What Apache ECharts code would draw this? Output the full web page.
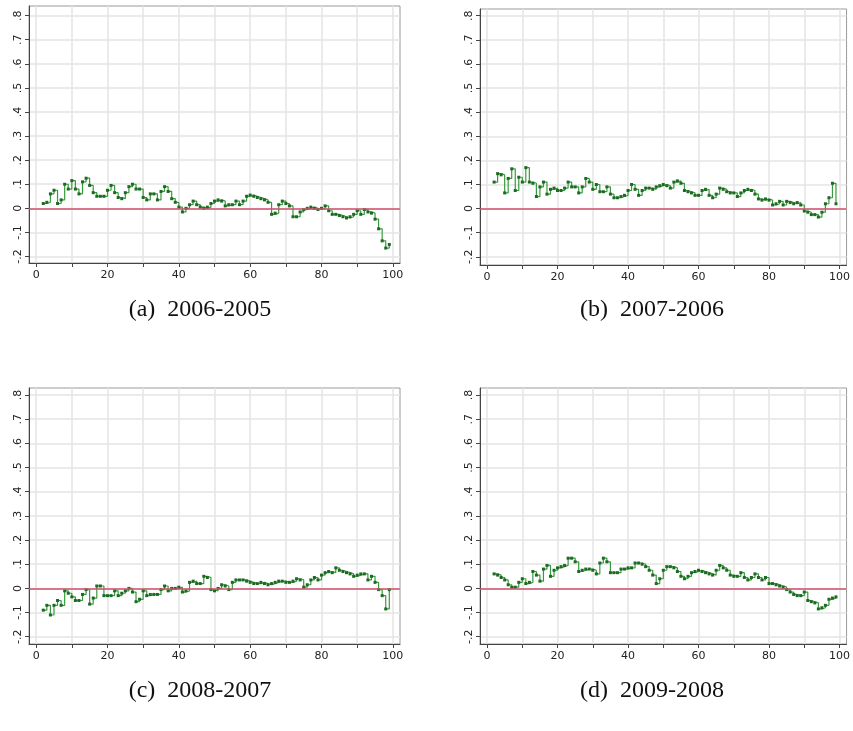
<!DOCTYPE html>
<html>
<head>
<meta charset="utf-8">
<script src="https://cdn.jsdelivr.net/npm/echarts@6/dist/echarts.min.js"></script>
<style>
  html, body { margin: 0; padding: 0; background: #fff; }
  #chart { width: 853px; height: 731px; }
</style>
</head>
<body>
<div id="chart"></div>
<script>
// percentiles on the x axis
var xs = [2, 3, 4, 5, 6, 7, 8, 9, 10, 11, 12, 13, 14, 15, 16, 17, 18, 19, 20,
  21, 22, 23, 24, 25, 26, 27, 28, 29, 30, 31, 32, 33, 34, 35, 36, 37, 38, 39, 40,
  41, 42, 43, 44, 45, 46, 47, 48, 49, 50, 51, 52, 53, 54, 55, 56, 57, 58, 59, 60,
  61, 62, 63, 64, 65, 66, 67, 68, 69, 70, 71, 72, 73, 74, 75, 76, 77, 78, 79, 80,
  81, 82, 83, 84, 85, 86, 87, 88, 89, 90, 91, 92, 93, 94, 95, 96, 97, 98, 99];

var diff0605 = [0.02, 0.025, 0.06, 0.075, 0.02, 0.035, 0.1, 0.08, 0.115, 0.08,
  0.06, 0.11, 0.125, 0.095, 0.065, 0.05, 0.05, 0.05, 0.075, 0.095,
  0.065, 0.045, 0.04, 0.065, 0.09, 0.1, 0.08, 0.08, 0.045, 0.035,
  0.06, 0.06, 0.035, 0.07, 0.09, 0.07, 0.04, 0.025, 0.005, -0.015,
  0.0, 0.015, 0.03, 0.015, 0.005, 0.0, 0.005, 0.02, 0.03, 0.035,
  0.03, 0.01, 0.015, 0.015, 0.03, 0.015, 0.03, 0.05, 0.055, 0.05,
  0.045, 0.04, 0.035, 0.025, -0.025, -0.02, 0.015, 0.03, 0.02, 0.01,
  -0.035, -0.035, -0.015, -0.005, 0.0, 0.005, 0.0, -0.005, 0.0, 0.01,
  -0.01, -0.025, -0.025, -0.03, -0.035, -0.04, -0.035, -0.025, -0.01, -0.025,
  -0.005, -0.015, -0.02, -0.045, -0.085, -0.135, -0.165, -0.15];

var diff0706 = [0.11, 0.145, 0.14, 0.065, 0.125, 0.165, 0.075, 0.13, 0.11, 0.17,
  0.11, 0.105, 0.05, 0.09, 0.11, 0.06, 0.08, 0.085, 0.075, 0.075,
  0.085, 0.11, 0.09, 0.09, 0.065, 0.09, 0.125, 0.11, 0.08, 0.1,
  0.07, 0.07, 0.09, 0.06, 0.045, 0.045, 0.05, 0.055, 0.075, 0.1,
  0.08, 0.055, 0.075, 0.085, 0.085, 0.08, 0.09, 0.095, 0.1, 0.095,
  0.085, 0.11, 0.115, 0.105, 0.075, 0.07, 0.065, 0.055, 0.055, 0.075,
  0.08, 0.055, 0.045, 0.06, 0.085, 0.08, 0.07, 0.065, 0.065, 0.05,
  0.065, 0.075, 0.08, 0.075, 0.06, 0.04, 0.035, 0.04, 0.035, 0.015,
  0.02, 0.03, 0.015, 0.03, 0.025, 0.02, 0.025, 0.015, -0.01, -0.015,
  -0.025, -0.025, -0.035, -0.015, 0.02, 0.045, 0.105, 0.02];

var diff0807 = [-0.09, -0.07, -0.11, -0.07, -0.05, -0.07, -0.01, -0.02, -0.035, -0.05,
  -0.05, -0.025, -0.005, -0.065, -0.04, 0.01, 0.01, -0.03, -0.03, -0.03,
  -0.01, -0.03, -0.02, -0.01, 0.0, -0.015, -0.055, -0.045, -0.01, -0.03,
  -0.025, -0.025, -0.025, -0.005, 0.01, -0.01, 0.0, 0.0, 0.005, -0.015,
  -0.01, 0.025, 0.03, 0.02, 0.02, 0.05, 0.045, -0.005, -0.01, 0.0,
  0.015, 0.01, -0.005, 0.025, 0.035, 0.035, 0.035, 0.03, 0.025, 0.02,
  0.02, 0.025, 0.02, 0.015, 0.02, 0.025, 0.03, 0.03, 0.025, 0.025,
  0.03, 0.04, 0.035, 0.005, 0.015, 0.035, 0.045, 0.035, 0.055, 0.065,
  0.07, 0.065, 0.085, 0.075, 0.07, 0.065, 0.06, 0.05, 0.055, 0.06,
  0.06, 0.035, 0.05, 0.025, -0.005, -0.03, -0.085, -0.005];

var diff0908 = [0.06, 0.055, 0.045, 0.035, 0.015, 0.005, 0.005, 0.025, 0.04, 0.02,
  0.025, 0.07, 0.055, 0.03, 0.08, 0.095, 0.05, 0.075, 0.085, 0.09,
  0.095, 0.125, 0.125, 0.11, 0.07, 0.075, 0.08, 0.08, 0.075, 0.06,
  0.105, 0.125, 0.11, 0.065, 0.065, 0.065, 0.08, 0.08, 0.085, 0.085,
  0.105, 0.105, 0.1, 0.09, 0.075, 0.055, 0.02, 0.04, 0.075, 0.09,
  0.09, 0.085, 0.07, 0.05, 0.04, 0.05, 0.065, 0.07, 0.075, 0.07,
  0.065, 0.06, 0.055, 0.075, 0.095, 0.085, 0.075, 0.055, 0.05, 0.05,
  0.065, 0.045, 0.035, 0.045, 0.06, 0.045, 0.035, 0.045, 0.02, 0.02,
  0.015, 0.01, 0.005, -0.005, -0.015, -0.025, -0.03, -0.03, -0.015, -0.05,
  -0.055, -0.06, -0.085, -0.08, -0.07, -0.045, -0.04, -0.035];

var captions = ['(a)  2006-2005', '(b)  2007-2006', '(c)  2008-2007', '(d)  2009-2008'];
var yTicks = [-0.2, -0.1, 0, 0.1, 0.2, 0.3, 0.4, 0.5, 0.6, 0.7, 0.8];
var xTicks = [0, 10, 20, 30, 40, 50, 60, 70, 80, 90, 100];
var xLabels = [0, 20, 40, 60, 80, 100];

// panel frames (pixels) and the value range each frame covers
var panels = [
  { data: diff0605, left: 29, top: 6, width: 371, height: 257, ymin: -0.227, ymax: 0.840, cx: 195, cy: 293 },
  { data: diff0706, left: 480, top: 9, width: 372, height: 256, ymin: -0.234, ymax: 0.828, cx: 647, cy: 293 },
  { data: diff0807, left: 29, top: 388, width: 371, height: 256, ymin: -0.230, ymax: 0.829, cx: 195, cy: 674 },
  { data: diff0908, left: 480, top: 388, width: 372, height: 256, ymin: -0.230, ymax: 0.829, cx: 647, cy: 674 }
];

function yFmt(v) {
  if (Math.abs(v) < 1e-9) return '0';
  return String(Math.round(v * 10) / 10).replace('0.', '.');
}

var grid = [], xAxis = [], yAxis = [], series = [], title = [];
panels.forEach(function(p, i) {
  grid.push({
    left: p.left, top: p.top, width: p.width, height: p.height,
    show: true, borderColor: '#9a9a9a', borderWidth: 1, backgroundColor: '#fff'
  });
  xAxis.push({
    type: 'value', gridIndex: i, min: -2, max: 102,
    axisLine: { show: true, onZero: false, lineStyle: { color: '#444', width: 1 } },
    axisTick: { show: true, length: 4, customValues: xTicks, lineStyle: { color: '#444' } },
    axisLabel: { customValues: xLabels, color: '#222', fontSize: 11, fontFamily: 'DejaVu Sans', margin: 7 },
    splitLine: { show: true, lineStyle: { color: '#e4e4e4', width: 1.5 } }
  });
  yAxis.push({
    type: 'value', gridIndex: i, min: p.ymin, max: p.ymax,
    axisLine: { show: true, onZero: false, lineStyle: { color: '#444', width: 1 } },
    axisTick: { show: true, length: 4, customValues: yTicks, lineStyle: { color: '#444' } },
    axisLabel: { customValues: yTicks, rotate: 90, color: '#222', fontSize: 11,
      fontFamily: 'DejaVu Sans', margin: 5, formatter: yFmt },
    splitLine: { show: true, lineStyle: { color: '#e4e4e4', width: 1.5 } }
  });
  series.push({
    type: 'line', xAxisIndex: i, yAxisIndex: i, step: 'end',
    data: xs.map(function(x, k) { return [x, p.data[k]]; }),
    showSymbol: true, symbol: 'rect', symbolSize: 3,
    itemStyle: { color: '#1d6b22' },
    lineStyle: { color: '#389a3e', width: 1.2 },
    animation: false, silent: true, z: 3,
    markLine: {
      silent: true, symbol: 'none', label: { show: false }, animation: false,
      lineStyle: { color: '#d0506f', width: 1.6, type: 'solid' },
      data: [{ yAxis: 0 }]
    }
  });
  title.push({
    text: captions[i], left: p.cx, top: p.cy, textAlign: 'center',
    textStyle: { fontFamily: 'Liberation Serif', fontWeight: 'normal', fontSize: 24, color: '#111' }
  });
});

var chart = echarts.init(document.getElementById('chart'), null, { renderer: 'canvas' });
chart.setOption({
  backgroundColor: '#fff',
  animation: false,
  title: title,
  grid: grid,
  xAxis: xAxis,
  yAxis: yAxis,
  series: series
});
</script>
</body>
</html>
